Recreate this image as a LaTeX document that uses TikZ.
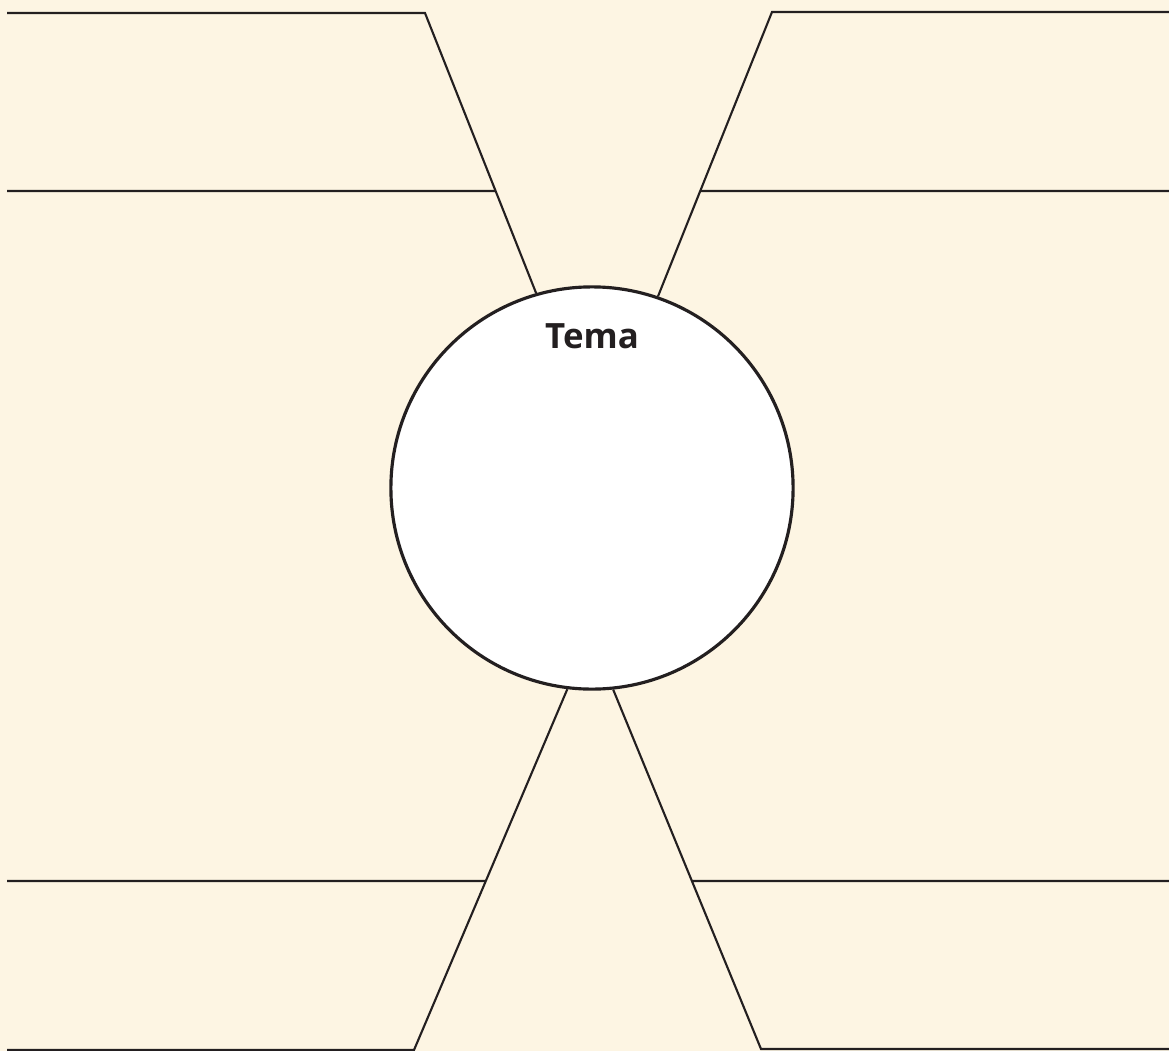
\documentclass[tikz,border=0pt]{standalone}
\usepackage{fontspec}
\setmainfont{Open Sans}
\usepackage{tikz}
\usetikzlibrary{positioning,calc}
\definecolor{ink}{HTML}{231F20}
\definecolor{paper}{HTML}{FDF5E3}
\tikzset{
  hub/.style={draw=ink,circle,fill=white,line width=0.9pt,minimum size=4.02cm,inner sep=0pt},
  rule/.style={draw=ink,line width=0.6pt,line join=miter},
  title/.style={font=\fontsize{9.9}{12}\selectfont\bfseries,text=ink,anchor=base,inner sep=0pt}
}
\begin{document}
\begin{tikzpicture}[x=0.01cm,y=-0.01cm]
  \fill[paper] (0,0) rectangle (1169,1051);
  \useasboundingbox (0,0) rectangle (1169,1051);
  % corners of the frame
  \coordinate (tl) at (425,13);
  \coordinate (tr) at (772,12);
  \coordinate (bl) at (414,1050);
  \coordinate (br) at (761,1049);
  \node[hub] (c) at (592,488) {};
  \node[title] (t) at (592,348) {Tema};
  % arms
  \draw[rule] (7,13) -- (tl) -- (c.106.4);
  \draw[rule] (c.71.9) -- (tr) -- (1169,12);
  \draw[rule] (7,1050) -- (bl) -- (c.263.7);
  \draw[rule] (c.276.6) -- (br) -- (1169,1049);
  % cross lines
  \coordinate (ml1) at (intersection of {tl}--{c.106.4} and {0,191}--{100,191});
  \coordinate (mr1) at (intersection of {tr}--{c.71.9} and {0,191}--{100,191});
  \coordinate (ml2) at (intersection of {bl}--{c.263.7} and {0,881}--{100,881});
  \coordinate (mr2) at (intersection of {br}--{c.276.6} and {0,881}--{100,881});
  \draw[rule] (7,191) -- (ml1);
  \draw[rule] (mr1) -- (1169,191);
  \draw[rule] (7,881) -- (ml2);
  \draw[rule] (mr2) -- (1169,881);
\end{tikzpicture}
\end{document}
